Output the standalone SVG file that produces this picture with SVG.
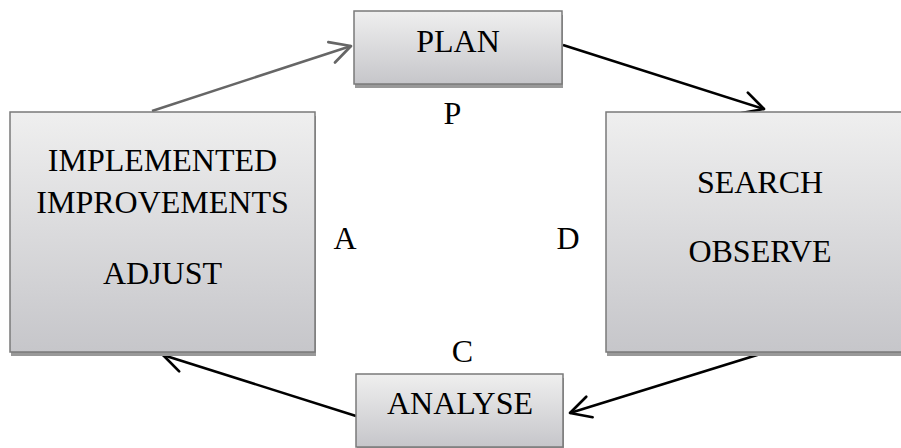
<svg xmlns="http://www.w3.org/2000/svg" width="901" height="448" viewBox="0 0 901 448">
  <defs>
    <linearGradient id="boxGrad" x1="0" y1="0" x2="0" y2="1">
      <stop offset="0" stop-color="#efefef"/>
      <stop offset="1" stop-color="#c6c6ca"/>
    </linearGradient>
    <marker id="arrowBlack" markerUnits="userSpaceOnUse" markerWidth="30" markerHeight="30" viewBox="-24 -12 28 24" refX="0" refY="0" orient="auto">
      <path d="M -19,-10 L 0,0 L -19,10" fill="none" stroke="#000" stroke-width="2.5" stroke-linecap="round" stroke-linejoin="round"/>
    </marker>
    <marker id="arrowGray" markerUnits="userSpaceOnUse" markerWidth="30" markerHeight="30" viewBox="-24 -12 28 24" refX="0" refY="0" orient="auto">
      <path d="M -19,-10 L 0,0 L -19,10" fill="none" stroke="#666" stroke-width="2.5" stroke-linecap="round" stroke-linejoin="round"/>
    </marker>
  </defs>
  <style>
    .shadow { fill: #999999; }
    .box { fill: url(#boxGrad); stroke: #7a7a7a; stroke-width: 1.5; }
    .t { font-family: "Liberation Serif", "Times New Roman", serif; font-size: 32px; fill: #000; text-anchor: middle; }
    .conn { fill: none; stroke-width: 2.5; }
    .black { stroke: #000; marker-end: url(#arrowBlack); }
    .gray { stroke: #666; marker-end: url(#arrowGray); }
  </style>
  <rect width="901" height="448" fill="#fff"/>

  <g id="connectors">
    <line class="conn gray" x1="152" y1="111" x2="351" y2="46"/>
    <line class="conn black" x1="563" y1="45" x2="764" y2="109"/>
    <line class="conn black" x1="770" y1="351" x2="570" y2="413"/>
    <line class="conn black" x1="356" y1="416" x2="163" y2="355"/>
  </g>

  <g id="plan">
    <rect class="shadow" x="355" y="15" width="208" height="73"/>
    <rect class="box" x="354" y="11" width="208" height="73"/>
    <text class="t" x="458" y="52">PLAN</text>
  </g>

  <g id="implemented">
    <rect class="shadow" x="11" y="116" width="305" height="240"/>
    <rect class="box" x="10" y="112" width="305" height="240"/>
    <text class="t" x="162.5" y="171">IMPLEMENTED</text>
    <text class="t" x="162.5" y="213">IMPROVEMENTS</text>
    <text class="t" x="162.5" y="284">ADJUST</text>
  </g>

  <g id="search">
    <rect class="shadow" x="607" y="116" width="310" height="240"/>
    <rect class="box" x="606" y="112" width="310" height="240"/>
    <text class="t" x="760" y="193">SEARCH</text>
    <text class="t" x="760" y="262">OBSERVE</text>
  </g>

  <g id="analyse">
    <rect class="shadow" x="357" y="378" width="207" height="73"/>
    <rect class="box" x="356" y="374" width="207" height="73"/>
    <text class="t" x="460" y="414">ANALYSE</text>
  </g>

  <g id="labels">
    <text class="t" x="452.5" y="124">P</text>
    <text class="t" x="345" y="249">A</text>
    <text class="t" x="568" y="249">D</text>
    <text class="t" x="462.5" y="362">C</text>
  </g>
</svg>
